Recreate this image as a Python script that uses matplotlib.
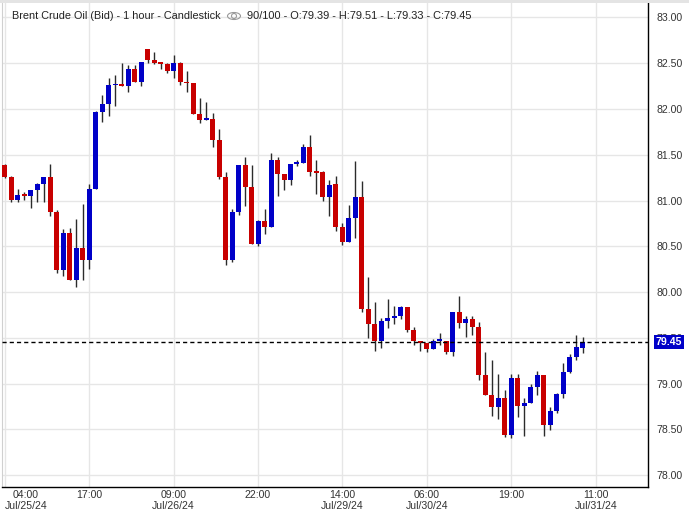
import matplotlib
matplotlib.use("Agg")
import matplotlib.pyplot as plt
from matplotlib.patches import Ellipse, Rectangle
import matplotlib.transforms as mtransforms

# ---------------- data ----------------
opens = [81.39, 81.26, 81.01, 81.06, 81.05, 81.11, 81.18, 81.26, 80.88, 80.24,
         80.64, 80.13, 80.48, 80.35, 81.13, 81.97, 82.05, 82.26, 82.27, 82.25,
         82.44, 82.30, 82.65, 82.54, 82.50, 82.49, 82.42, 82.50, 82.29, 82.28,
         81.95, 81.88, 81.89, 81.66, 81.26, 80.35, 80.88, 81.39, 81.15, 80.52,
         80.78, 80.71, 81.44, 81.29, 81.22, 81.40, 81.41, 81.59, 81.31, 81.31,
         81.04, 81.18, 80.71, 80.55, 80.81, 81.04, 79.81, 79.65, 79.47, 79.68,
         79.72, 79.74, 79.84, 79.59, 79.46, 79.44, 79.38, 79.47, 79.47, 79.35,
         79.78, 79.66, 79.71, 79.62, 79.09, 78.88, 78.74, 78.84, 78.44, 79.06,
         78.75, 78.79, 78.96, 79.09, 78.55, 78.70, 78.89, 79.13, 79.29, 79.39]
highs = [81.40, 81.27, 81.13, 81.09, 81.11, 81.19, 81.26, 81.40, 80.90, 80.69,
         80.70, 80.80, 80.96, 81.18, 81.98, 82.15, 82.34, 82.37, 82.50, 82.48,
         82.48, 82.51, 82.65, 82.62, 82.51, 82.50, 82.59, 82.51, 82.42, 82.28,
         82.12, 82.08, 81.96, 81.78, 81.31, 80.91, 81.39, 81.47, 81.39, 80.79,
         80.91, 81.52, 81.48, 81.29, 81.40, 81.44, 81.62, 81.72, 81.44, 81.32,
         81.22, 81.27, 80.75, 80.95, 81.43, 81.21, 80.16, 79.89, 79.72, 79.92,
         79.85, 79.85, 79.84, 79.62, 79.46, 79.44, 79.49, 79.55, 79.47, 79.78,
         79.96, 79.74, 79.74, 79.67, 79.35, 79.26, 79.10, 78.93, 79.10, 79.11,
         78.84, 79.00, 79.14, 79.09, 78.74, 78.90, 79.23, 79.32, 79.53, 79.51]
lows = [81.25, 80.98, 80.98, 81.01, 80.92, 80.98, 80.98, 80.83, 80.21, 80.18,
        80.13, 80.06, 80.13, 80.25, 81.13, 81.86, 81.92, 82.03, 82.25, 82.19,
        82.29, 82.25, 82.50, 82.49, 82.44, 82.39, 82.34, 82.26, 82.19, 81.94,
        81.85, 81.88, 81.58, 81.24, 80.30, 80.33, 80.84, 80.94, 80.52, 80.50,
        80.63, 80.71, 81.05, 81.12, 81.17, 81.38, 81.41, 81.27, 81.07, 81.00,
        80.83, 80.67, 80.51, 80.55, 80.59, 79.78, 79.50, 79.36, 79.39, 79.61,
        79.65, 79.71, 79.56, 79.42, 79.36, 79.34, 79.38, 79.42, 79.32, 79.30,
        79.61, 79.51, 79.53, 79.04, 78.88, 78.65, 78.61, 78.42, 78.41, 78.64,
        78.43, 78.79, 78.88, 78.43, 78.49, 78.68, 78.84, 79.12, 79.26, 79.33]
closes = [81.26, 81.01, 81.06, 81.05, 81.11, 81.18, 81.26, 80.88, 80.24, 80.64,
          80.13, 80.48, 80.35, 81.13, 81.97, 82.05, 82.26, 82.27, 82.25, 82.44,
          82.30, 82.51, 82.54, 82.50, 82.49, 82.42, 82.50, 82.29, 82.28, 81.95,
          81.88, 81.89, 81.66, 81.26, 80.35, 80.88, 81.39, 81.15, 80.52, 80.78,
          80.71, 81.44, 81.29, 81.22, 81.40, 81.41, 81.59, 81.31, 81.30, 81.04,
          81.17, 80.71, 80.55, 80.81, 81.04, 79.81, 79.65, 79.47, 79.68, 79.72,
          79.74, 79.84, 79.59, 79.46, 79.44, 79.38, 79.47, 79.48, 79.35, 79.78,
          79.66, 79.71, 79.62, 79.09, 78.88, 78.74, 78.84, 78.44, 79.06, 78.75,
          78.79, 78.96, 79.09, 78.55, 78.70, 78.89, 79.13, 79.29, 79.40, 79.45]

xtick_pos = [0, 13, 26, 39, 52, 65, 78, 91]
xtick_labels = ["04:00\nJul/25/24", "17:00", "09:00\nJul/26/24", "22:00",
                "14:00\nJul/29/24", "06:00\nJul/30/24", "19:00", "11:00\nJul/31/24"]
ytick_vals = [78.0, 78.5, 79.0, 79.5, 80.0, 80.5, 81.0, 81.5, 82.0, 82.5, 83.0]
last_price = 79.45
header_left = "Brent Crude Oil (Bid) - 1 hour - Candlestick"
header_right = "90/100 - O:79.39 - H:79.51 - L:79.33 - C:79.45"

# ---------------- style ----------------
plt.rcParams['font.family'] = ['Liberation Sans', 'DejaVu Sans']
UP = '#0000c8'
DOWN = '#c80000'
WICK = '#2b2b2b'
GRID = '#e6e6e6'
TXT = '#333333'

W, H = 689, 512
fig = plt.figure(figsize=(W / 100, H / 100), dpi=100)
L, R, T, B = 2, 648.3, 3, 487
ax = fig.add_axes([L / W, 1 - B / H, (R - L) / W, (B - T) / H])

n = len(opens)
xs = list(range(n))
bottoms = [min(o, c) for o, c in zip(opens, closes)]
heights = [max(abs(c - o), 0.018) for o, c in zip(opens, closes)]
cols = [UP if c >= o else DOWN for o, c in zip(opens, closes)]

ax.vlines(xs, lows, highs, colors=WICK, linewidth=1.0, zorder=2)
ax.bar(xs, heights, bottom=bottoms, width=0.77, color=cols, linewidth=0, zorder=3)

ax.set_xlim(-0.42, 99.09)
ax.set_ylim(77.87, 83.158)

ax.set_yticks(ytick_vals)
ax.set_yticklabels([f"{v:.2f}" for v in ytick_vals])
ax.set_xticks(xtick_pos)
ax.set_xticklabels(xtick_labels)
ax.grid(True, color=GRID, linewidth=1.0, zorder=0)
ax.set_axisbelow(True)

ax.yaxis.tick_right()
ax.tick_params(axis='y', length=0, pad=6, labelsize=7.6, labelcolor=TXT)
ax.tick_params(axis='x', length=0, pad=2.5, labelsize=7.6, labelcolor=TXT)
for lab in ax.get_yticklabels():
    lab.set_horizontalalignment('left')
xl = ax.get_xticklabels()
xl[0].set_horizontalalignment('left')
for lab in xl:
    lab.set_multialignment('center')
    lab.set_linespacing(1.05)

ax.spines['top'].set_visible(False)
ax.spines['left'].set_color('#d0d0d0')
ax.spines['left'].set_linewidth(0.8)
ax.spines['right'].set_color('black')
ax.spines['bottom'].set_color('black')
ax.spines['right'].set_linewidth(1.0)
ax.spines['bottom'].set_linewidth(1.0)

# last price dashed line and label
ax.axhline(last_price, color='black', linewidth=1.0, linestyle=(0, (3, 2.2)), zorder=4)
blend = mtransforms.blended_transform_factory(ax.transAxes, ax.transData)
ax.text((656 - L) / (R - L), last_price, f"{last_price:.2f}", transform=blend,
        ha='left', va='center', color='white', fontsize=7.6, fontweight='bold',
        clip_on=False, zorder=10,
        bbox=dict(boxstyle='square,pad=0.18', fc=UP, ec='none'))

# header
fig.text(12.5 / W, 1 - 16 / H, header_left, ha='left', va='center', fontsize=7.85, color='#222222')
fig.text(247 / W, 1 - 16 / H, header_right, ha='left', va='center', fontsize=7.9, color='#222222')
eye = Ellipse((234 / W, 1 - 16 / H), 13 / W, 7 / H, transform=fig.transFigure,
              fill=False, ec='#9a9a9a', lw=0.8)
pupil = Ellipse((234 / W, 1 - 16 / H), 5 / W, 5 / H, transform=fig.transFigure,
                fill=False, ec='#9a9a9a', lw=0.8)
fig.patches.extend([eye, pupil])
fig.patches.append(Rectangle((0, 1 - 3 / H), 1, 3 / H, transform=fig.transFigure,
                             color='#e4e4e4', lw=0))

fig.savefig("out.png", dpi=100)
